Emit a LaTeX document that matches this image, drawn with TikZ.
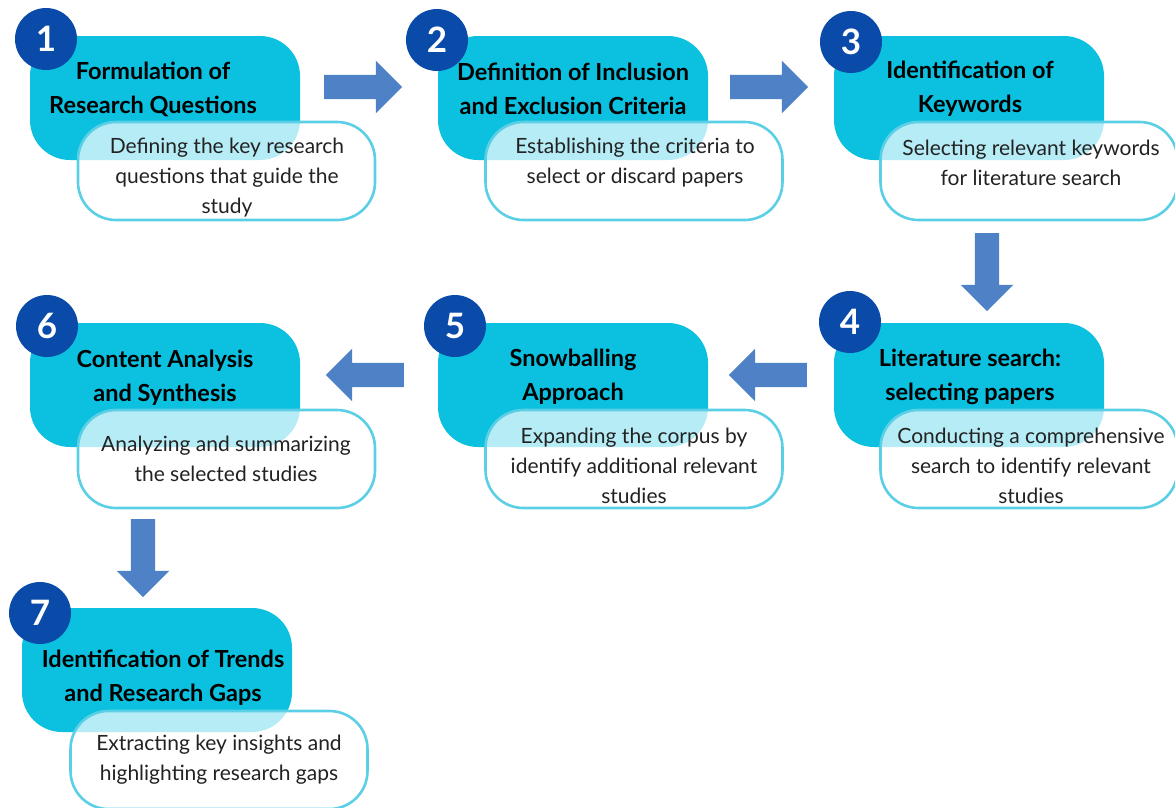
\documentclass[tikz,border=0pt]{standalone}
\usepackage{fontspec}
\setmainfont{Lato}
\usetikzlibrary{shapes.arrows}
\definecolor{stepcyan}{HTML}{0CC0DF}
\definecolor{stepborder}{HTML}{5BCFE6}
\definecolor{numblue}{HTML}{0A4AA8}
\definecolor{arrowblue}{HTML}{4F81C7}
\definecolor{bodytext}{HTML}{222222}
\tikzset{
  headbox/.style={fill=stepcyan, rounded corners=40pt, minimum width=270pt, minimum height=124pt, inner sep=0pt},
  descbox/.style={draw=stepborder, line width=2.6pt, fill=white, fill opacity=0.7, rounded corners=38pt, minimum width=297pt, minimum height=98pt, inner sep=0pt},
  numdisc/.style={circle, fill=numblue, minimum size=62pt, inner sep=0pt, text=white, font=\fontsize{35}{35}\selectfont\bfseries},
  headtext/.style={align=center, text=black, font=\fontsize{23.5}{34}\selectfont\bfseries},
  desctext/.style={align=center, text=bodytext, font=\fontsize{21}{30}\selectfont},
  blockarrow/.style={single arrow, fill=arrowblue, minimum height=78pt, minimum width=52pt, single arrow head extend=14pt, inner sep=0pt, text height=0pt, text depth=0pt, inner ysep=12pt}
}
\begin{document}
\begin{tikzpicture}[x=1pt,y=-1pt]
\useasboundingbox[fill=white] (0,0) rectangle (1175,807);

% step 1
\node[headbox] (h1) at (165,98) {};
\node[numdisc] (n1) at (46,39) {1};
\node[descbox] (d1) at (226.5,171) {};
\node[headtext] (t1) at (153,89) {Formulation of\\Research Questions};
\node[desctext] (b1) at (227,178) {Defining the key research\\questions that guide the\\study};

% step 2
\node[headbox] (h2) at (573,98) {};
\node[numdisc] (n2) at (437,40) {2};
\node[descbox] (d2) at (634,171) {};
\node[headtext] (t2) at (573,89) {Definition of Inclusion\\and Exclusion Criteria};
\node[desctext] (b2) at (635,163) {Establishing the criteria to\\select or discard papers};

% step 3
\node[headbox] (h3) at (969,98) {};
\node[numdisc] (n3) at (851,42) {3};
\node[descbox] (d3) at (1029,171) {};
\node[headtext] (t3) at (970,89) {Identification of\\Keywords};
\node[desctext] (b3) at (1031,163) {Selecting relevant keywords\\for literature search};

% step 4
\node[headbox] (h4) at (969,385) {};
\node[numdisc] (n4) at (850,322) {4};
\node[descbox] (d4) at (1029,459) {};
\node[headtext] (t4) at (970,377) {Literature search:\\selecting papers};
\node[desctext] (b4) at (1031,466) {Conducting a comprehensive\\search to identify relevant\\studies};

% step 5
\node[headbox] (h5) at (573,385) {};
\node[numdisc] (n5) at (455,326) {5};
\node[descbox] (d5) at (634,459) {};
\node[headtext] (t5) at (573,377) {Snowballing\\Approach};
\node[desctext] (b5) at (634,466) {Expanding the corpus by\\identify additional relevant\\studies};

% step 6
\node[headbox] (h6) at (165,385) {};
\node[numdisc] (n6) at (47,326) {6};
\node[descbox] (d6) at (226.5,459) {};
\node[headtext] (t6) at (165,378) {Content Analysis\\and Synthesis};
\node[desctext] (b6) at (226,459) {Analyzing and summarizing\\the selected studies};

% step 7
\node[headbox] (h7) at (157,670) {};
\node[numdisc] (n7) at (40,613) {7};
\node[descbox] (d7) at (219,760) {};
\node[headtext] (t7) at (163,678) {Identification of Trends\\and Research Gaps};
\node[desctext] (b7) at (219,760) {Extracting key insights and\\highlighting research gaps};

% block arrows between the steps
\node[blockarrow] (a12) at (357,87) {};
\node[blockarrow] (a23) at (763,87) {};
\node[blockarrow, rotate=-90] (a34) at (987,266) {};
\node[blockarrow, rotate=180] (a45) at (774,375) {};
\node[blockarrow, rotate=180] (a56) at (371,375) {};
\node[blockarrow, rotate=-90] (a67) at (143,552) {};
\end{tikzpicture}
\end{document}
